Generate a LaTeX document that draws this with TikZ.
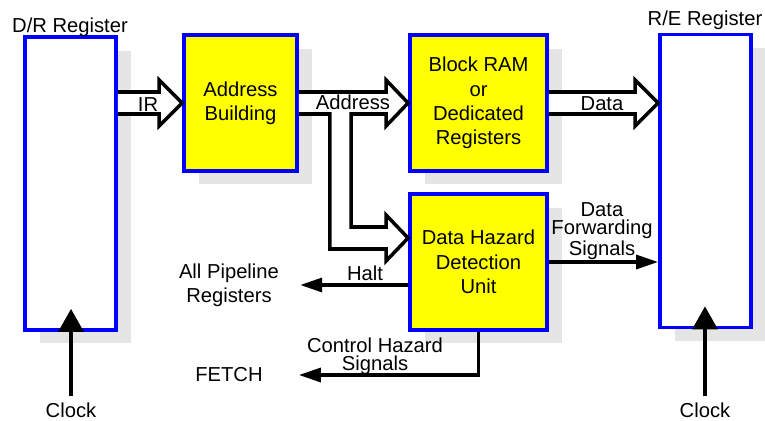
\documentclass[tikz,border=0pt]{standalone}
\usepackage{fontspec}
\setmainfont{Liberation Sans}
\usepackage{xcolor}
\definecolor{regblue}{rgb}{0,0,1}
\definecolor{unityellow}{rgb}{1,1,0}
\definecolor{shadowgrey}{rgb}{0.9,0.9,0.9}
\usetikzlibrary{positioning}
\usetikzlibrary{calc}
\usetikzlibrary{shadows}
\usetikzlibrary{arrows.meta}

\begin{document}
\begin{tikzpicture}[x=0.02cm, y=-0.02cm, every node/.style={font=\fontsize{11.5}{13.9}\selectfont},
	reg/.style={draw=regblue, line width=2.2pt, fill=white, minimum width=1.82cm, minimum height=5.86cm,
		drop shadow={shadow xshift=0.3cm, shadow yshift=-0.27cm, fill=shadowgrey, opacity=1}},
	unit/.style={reg, fill=unityellow, align=center, minimum width=2.74cm, minimum height=2.72cm},
	bigarrow/.style={draw=black, line width=2pt, fill=white, line join=miter},
	sig/.style={line width=1.9pt, -{Triangle[length=0.44cm, width=0.28cm]}},
	clk/.style={line width=2pt, -{Triangle[length=0.46cm, width=0.5cm]}},
	stack/.style={align=center, font=\fontsize{11.5}{10.5}\selectfont}]
			\useasboundingbox (0,0) rectangle (765,420);

\node(dr)[reg] at (70.5,183.5) {};
\node(re)[reg] at (705.5,181) {};
\node(ab)[unit, minimum width=2.26cm] at (240.5,103) {Address\\Building};
\node(ram)[unit] at (478.5,103) {Block RAM\\or\\Dedicated\\Registers};
\node(hazard)[unit] at (478.5,262) {Data Hazard\\Detection\\Unit};

\node(drlbl) at (70,27) {D/R Register};
\node(relbl) at (705,20) {R/E Register};
\node(clkl) at (71,410) {Clock};
\node(clkr) at (705,410) {Clock};
\node(allpipe)[align=center] at (229,285) {All Pipeline\\Registers};
\node(fetch) at (229,375) {FETCH};

\coordinate (ramtip) at (ram.west);
\coordinate (hztip) at ($(hazard.west)+(0,-24)$);
\coordinate (retip) at (re.west |- ram.east);

\draw[bigarrow] ($(dr.east |- ab.west)+(0,-11)$) -- ($(ab.west)+(-23,-11)$) -- ++(0,-12) -- (ab.west) -- ++(-23,23) -- ++(0,-12) -- ($(dr.east |- ab.west)+(0,11)$);
\draw[bigarrow] ($(ab.east)+(0,-11)$) -- ($(ramtip)+(-22,-11)$) -- ++(0,-12) -- (ramtip) -- ++(-22,23) -- ++(0,-12) -- ++(-35,0) |- ($(hztip)+(-22,-11)$) -- ++(0,-12) -- (hztip) -- ++(-22,23) -- ++(0,-12) -| ($(ab.east)+(31,11)$) -- ($(ab.east)+(0,11)$);
\draw[bigarrow] ($(ram.east)+(0,-11)$) -- ($(retip)+(-23,-11)$) -- ++(0,-12) -- (retip) -- ++(-23,23) -- ++(0,-12) -- ($(ram.east)+(0,11)$);

\node(irtext) at (148,105) {IR};
\node(addrtext) at (353,102) {Address};
\node(datatext) at (602,104) {Data};
\node(halttext) at (365,273) {Halt};
\node(fwdtext)[stack] at (602,231) {Data\\Forwarding\\Signals};
\node(ctrltext)[stack] at (375,356) {Control Hazard\\Signals};

\draw[sig] (hazard.east) -- (re.west |- hazard.east);
\draw[sig] (hazard.west |- allpipe.east) -- ([xshift=0.3cm]allpipe.east);
\draw[sig] (hazard.south) |- ([xshift=0.6cm]fetch.east);
\draw[clk] (clkl.north) -- ($(clkl.north |- dr.south)+(0,-23)$);
\draw[clk] (clkr.north) -- ($(clkr.north |- re.south)+(0,-23)$);
		\end{tikzpicture}
\end{document}
